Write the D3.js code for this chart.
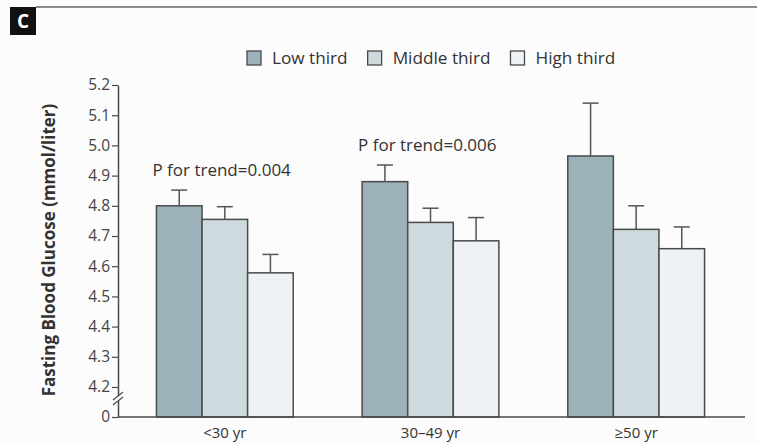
<!DOCTYPE html>
<html>
<head>
<meta charset="utf-8">
<script src="https://cdn.jsdelivr.net/npm/d3@7"></script>
<style>
  body { margin: 0; background: #fcfcfc; }
  svg { display: block; font-family: "Open Sans", "DejaVu Sans", sans-serif; }
</style>
</head>
<body>
<div id="root"></div>
<script>
// age groups and tertile series
const ageGroups = ["<30 yr", "30\u201349 yr", "\u226550 yr"];
const thirds = ["Low third", "Middle third", "High third"];

// mean fasting glucose (mmol/liter), one array per third
const lowThird = [4.80, 4.88, 4.965];
const middleThird = [4.755, 4.745, 4.722];
const highThird = [4.578, 4.684, 4.658];

// upper error (SE) for each bar
const lowErr = [0.052, 0.055, 0.175];
const middleErr = [0.042, 0.047, 0.078];
const highErr = [0.061, 0.077, 0.072];

// P for trend labels (shown above first two groups)
const trendLabels = ["P for trend=0.004", "P for trend=0.006", null];

const yTicks = [0, 4.2, 4.3, 4.4, 4.5, 4.6, 4.7, 4.8, 4.9, 5.0, 5.1, 5.2];

const width = 757;
const height = 444;
const fills = ["#9cb1b9", "#cedadd", "#eef2f4"];
const stroke = "#4a4a4a";

const series = [
  { name: thirds[0], means: lowThird, errs: lowErr },
  { name: thirds[1], means: middleThird, errs: middleErr },
  { name: thirds[2], means: highThird, errs: highErr },
];

const bars = [];
ageGroups.forEach((g, gi) => {
  series.forEach((s, si) => {
    bars.push({ group: g, third: s.name, idx: si, mean: s.means[gi], err: s.errs[gi] });
  });
});

const svg = d3.select("#root").append("svg")
  .attr("width", width)
  .attr("height", height);

// panel header: rule + "C" label
svg.append("line")
  .attr("x1", 36).attr("x2", width)
  .attr("y1", 7).attr("y2", 7)
  .attr("stroke", "#8a8a8a")
  .attr("stroke-width", 2);

svg.append("rect")
  .attr("x", 10).attr("y", 7)
  .attr("width", 26).attr("height", 28)
  .attr("fill", "#111");

svg.append("text")
  .attr("x", 23).attr("y", 28)
  .attr("text-anchor", "middle")
  .attr("fill", "#fff")
  .attr("font-weight", "bold")
  .attr("font-size", 19)
  .text("C");

// scales: broken y axis (0 then 4.2–5.2)
const y = d3.scaleLinear()
  .domain([0, 4.2, 5.2])
  .range([417, 387, 85]);

const x0 = d3.scaleBand()
  .domain(ageGroups)
  .range([122, 739])
  .paddingInner(0.335)
  .paddingOuter(0.1675);

const x1 = d3.scaleBand()
  .domain(thirds)
  .range([0, x0.bandwidth()]);

const color = d3.scaleOrdinal(thirds, fills);

// bars
const barG = svg.append("g");
barG.selectAll("rect")
  .data(bars)
  .join("rect")
  .attr("x", d => x0(d.group) + x1(d.third))
  .attr("y", d => y(d.mean))
  .attr("width", x1.bandwidth())
  .attr("height", d => y(0) - y(d.mean))
  .attr("fill", d => color(d.third))
  .attr("stroke", stroke)
  .attr("stroke-width", 1.5);

// error bars
const errG = svg.append("g")
  .attr("stroke", "#555")
  .attr("stroke-width", 1.5);

errG.selectAll("line.stem")
  .data(bars)
  .join("line")
  .attr("class", "stem")
  .attr("x1", d => x0(d.group) + x1(d.third) + x1.bandwidth() / 2)
  .attr("x2", d => x0(d.group) + x1(d.third) + x1.bandwidth() / 2)
  .attr("y1", d => y(d.mean))
  .attr("y2", d => y(d.mean + d.err));

errG.selectAll("line.cap")
  .data(bars)
  .join("line")
  .attr("class", "cap")
  .attr("x1", d => x0(d.group) + x1(d.third) + x1.bandwidth() / 2 - 8)
  .attr("x2", d => x0(d.group) + x1(d.third) + x1.bandwidth() / 2 + 8)
  .attr("y1", d => y(d.mean + d.err))
  .attr("y2", d => y(d.mean + d.err));

// y axis
const yAxis = svg.append("g")
  .attr("transform", "translate(118,0)")
  .call(d3.axisLeft(y)
    .tickValues(yTicks)
    .tickSize(6)
    .tickSizeOuter(0)
    .tickFormat(d => d === 0 ? "0" : d3.format(".1f")(d)));

yAxis.select(".domain").attr("stroke", stroke).attr("stroke-width", 1.5);
yAxis.selectAll(".tick line").attr("stroke", stroke).attr("stroke-width", 1.2);
yAxis.selectAll(".tick text")
  .attr("fill", "#444")
  .attr("font-size", 15.5)
  .attr("font-family", "\"Open Sans\", sans-serif")
  .attr("x", -8);

// axis break marks
const breakY = y(4.2) + 12;
svg.append("rect")
  .attr("x", 114).attr("y", breakY - 3)
  .attr("width", 8).attr("height", 5)
  .attr("fill", "#fcfcfc");
svg.append("g")
  .attr("stroke", stroke)
  .attr("stroke-width", 1.3)
  .selectAll("line")
  .data([-3, 2])
  .join("line")
  .attr("x1", 113).attr("x2", 123)
  .attr("y1", d => breakY + d + 4)
  .attr("y2", d => breakY + d - 4);

// x axis baseline
svg.append("line")
  .attr("x1", 118).attr("x2", 745)
  .attr("y1", y(0)).attr("y2", y(0))
  .attr("stroke", stroke)
  .attr("stroke-width", 1.5);

svg.append("g")
  .selectAll("text")
  .data(ageGroups)
  .join("text")
  .attr("x", d => x0(d) + x0.bandwidth() / 2)
  .attr("y", 438)
  .attr("text-anchor", "middle")
  .attr("fill", "#333")
  .attr("font-size", 15)
  .text(d => d);

// y axis title
svg.append("text")
  .attr("transform", "translate(55,250) rotate(-90)")
  .attr("text-anchor", "middle")
  .attr("fill", "#333")
  .attr("font-weight", "bold")
  .attr("font-size", 17)
  .text("Fasting Blood Glucose (mmol/liter)");

// P for trend annotations
svg.append("g")
  .selectAll("text")
  .data(ageGroups.map((g, i) => ({ g, label: trendLabels[i], top: lowThird[i] + lowErr[i] })).filter(d => d.label))
  .join("text")
  .attr("x", d => x0(d.g) - 4)
  .attr("y", d => y(d.top) - 14)
  .attr("fill", "#333")
  .attr("font-size", 17)
  .text(d => d.label);

// legend
const legend = svg.append("g").attr("transform", "translate(247,51)");
let lx = 0;
thirds.forEach(t => {
  const item = legend.append("g").attr("transform", `translate(${lx},0)`);
  item.append("rect")
    .attr("width", 14).attr("height", 14)
    .attr("fill", color(t))
    .attr("stroke", stroke)
    .attr("stroke-width", 1.3);
  const label = item.append("text")
    .attr("x", 25).attr("y", 13)
    .attr("fill", "#333")
    .attr("font-size", 17.2)
    .text(t);
  lx += 25 + label.node().getComputedTextLength() + 20;
});
</script>
</body>
</html>
